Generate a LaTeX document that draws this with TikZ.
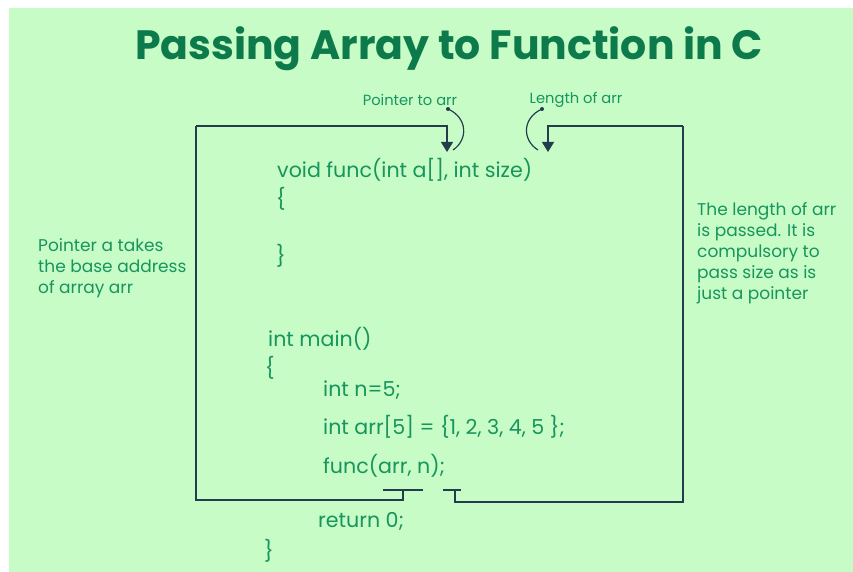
\documentclass[tikz,border=0pt]{standalone}
\usepackage{fontspec}
\setmainfont{Poppins}
\usepackage{tikz}
\usetikzlibrary{arrows.meta}

\definecolor{bggreen}{HTML}{C7FCC7}
\definecolor{txtgreen}{HTML}{17955C}
\definecolor{ttlgreen}{HTML}{0D7A4B}
\definecolor{linenavy}{HTML}{233C4E}

\tikzset{
	code/.style={anchor=base west,inner sep=0pt,text=txtgreen,font=\fontsize{20.6}{20.6}\selectfont},
	note/.style={anchor=west,inner sep=0pt,align=left,text=txtgreen,font=\fontsize{17}{21}\selectfont},
	tag/.style={inner sep=0pt,text=txtgreen,font=\fontsize{14.7}{16}\selectfont},
	wire/.style={draw=linenavy,line width=1.2pt},
	tip/.style={-{Triangle[length=10pt,width=12pt]}},
}

\begin{document}
\begin{tikzpicture}[x=1pt,y=-1pt]
	\useasboundingbox (0,0) rectangle (853,572);
	\fill[white] (0,0) rectangle (853,572);
	\fill[bggreen] (9,8) rectangle (853,572);

	\node[text=ttlgreen,inner sep=0pt,font=\fontsize{41}{41}\selectfont\bfseries] (title) at (449,49) {Passing Array to Function in C};

	% labels above the signature
	\node[tag] (ptrlbl) at (410,100) {Pointer to arr};
	\node[tag] (lenlbl) at (576,100) {Length of arr};

	% code
	\node[code] (sig) at (277,178) {void func(int a[], int size)};
	\node[code] (fopen) at (276,206) {\{};
	\node[code] (fclose) at (276,263) {\}};
	\node[code] (mainsig) at (268,346) {int main()};
	\node[code] (mopen) at (265,375) {\{};
	\node[code] (decln) at (323,396) {int n=5;};
	\node[code] (declarr) at (323,434) {int arr[5] = \{1, 2, 3, 4, 5 \};};
	\node[code] (call) at (323,473) {func(arr, n);};
	\node[code] (ret) at (318,527) {return 0;};
	\node[code] (mclose) at (264,558) {\}};

	% side notes
	\node[note] (leftnote) at (38,268) {Pointer a takes\\the base address\\of array arr};
	\node[note] (rightnote) at (697,253) {The length of arr\\is passed. It is\\compulsory to\\pass size as is\\just a pointer};

	% wires
	\coordinate (boxtl) at (196,126);
	\coordinate (ptrtip) at (447,152);
	\coordinate (argL) at (403,490);
	\coordinate (boxtr) at (683,126);
	\coordinate (lentip) at (548,152);
	\coordinate (argR) at (455,490);

	\draw[wire,tip] (boxtl) -| (ptrtip);
	\draw[wire] (boxtl) |- ([yshift=-10pt]argL) -- (argL);
	\draw[wire] ([xshift=-20pt]argL) -- ([xshift=20pt]argL);

	\draw[wire,tip] (boxtr) -| (lentip);
	\draw[wire] (boxtr) |- ([yshift=-12pt]argR) -- (argR);
	\draw[wire] ([xshift=-12pt]argR) -- ([xshift=6pt]argR);

	% curved pointers
	\coordinate (ptrdot) at (448,109);
	\coordinate (lendot) at (542,109);
	\fill[linenavy] (ptrdot) circle (2pt);
	\draw[wire] (ptrdot) .. controls (468,118) and (468,140) .. (453,150);
	\fill[linenavy] (lendot) circle (2pt);
	\draw[wire] (lendot) .. controls (522,118) and (522,140) .. (538,150);
\end{tikzpicture}
\end{document}
